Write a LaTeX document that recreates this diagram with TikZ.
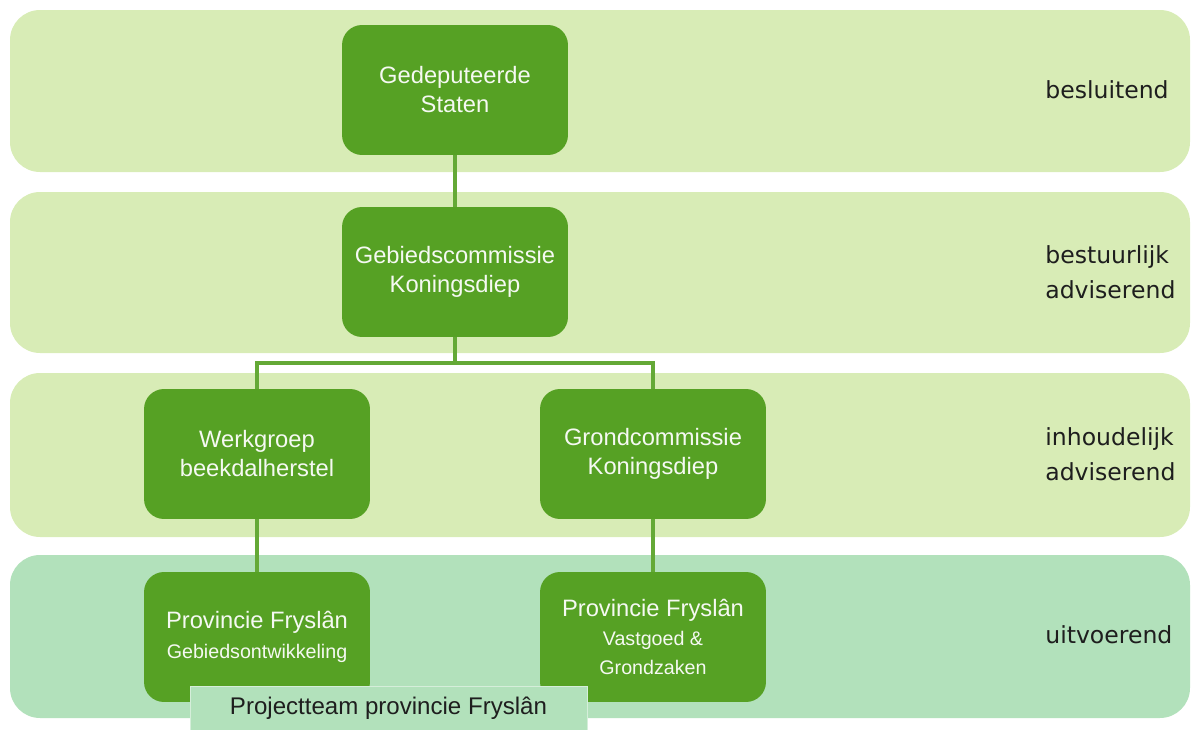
\documentclass[tikz,border=0pt]{standalone}
\usepackage{fontspec}
\setmainfont{Liberation Sans}
\newfontfamily\labelfont{DejaVu Sans}
\usetikzlibrary{positioning}
\definecolor{leaf}{HTML}{56A124}
\definecolor{band}{HTML}{D8ECB6}
\definecolor{bandexec}{HTML}{B2E1BB}
\definecolor{ink}{HTML}{1E1E1E}
\newcommand\subfont{\fontsize{11.2}{15}\selectfont}

\begin{document}
\begin{tikzpicture}[x=0.02cm,y=-0.02cm,layer/.style={fill=band,rounded corners=0.6cm},unit/.style={fill=leaf,rounded corners=0.4cm,minimum width=4.52cm,minimum height=2.6cm,text=white!94!leaf,align=center,font=\fontsize{13.5}{16.5}\selectfont},role/.style={anchor=west,inner sep=0pt,align=left,text=ink,font=\labelfont\fontsize{13.4}{20}\selectfont},link/.style={draw=leaf!92!white,line width=2.3pt}]
 \useasboundingbox (0,0) rectangle (1191,730);
 % layers
 \fill[layer] (10,10) rectangle (1190,172);
 \fill[layer] (10,192) rectangle (1190,353);
 \fill[layer] (10,373) rectangle (1190,537);
 \fill[layer,fill=bandexec] (10,555) rectangle (1190,718);
 % organisation
 \node[unit] (gs) at (455,90) {Gedeputeerde\\Staten};
 \node[unit] (gc) at (455,272) {Gebiedscommissie\\Koningsdiep};
 \node[unit] (wg) at (257,454) {Werkgroep\\beekdalherstel};
 \node[unit] (gk) at (653,454) {Grondcommissie\\Koningsdiep};
 \node[unit] (pg) at (257,637) {Provincie Fryslân\\[1pt]{\subfont Gebiedsontwikkeling}};
 \node[unit] (pv) at (653,637) {Provincie Fryslân\\{\subfont Vastgoed \&}\\{\subfont Grondzaken}};
 \node[draw=white!45!bandexec,fill=bandexec,minimum width=7.94cm,minimum height=0.88cm,text=ink,font=\fontsize{13.7}{16}\selectfont] (pt) at (388.5,708) {Projectteam provincie Fryslân};
 \coordinate (split) at (455,363);
 \draw[link] (gs) -- (gc);
 \draw[link] (gc) -- (split) -| (wg);
 \draw[link] (split) -| (gk);
 \draw[link] (wg) -- (pg);
 \draw[link] (gk) -- (pv);
 % roles
 \node[role] (r1) at (1045,90) {besluitend};
 \node[role] (r2) at (1045,272) {bestuurlijk\\adviserend};
 \node[role] (r3) at (1045,454) {inhoudelijk\\adviserend};
 \node[role] (r4) at (1045,635) {uitvoerend};
\end{tikzpicture}
\end{document}
